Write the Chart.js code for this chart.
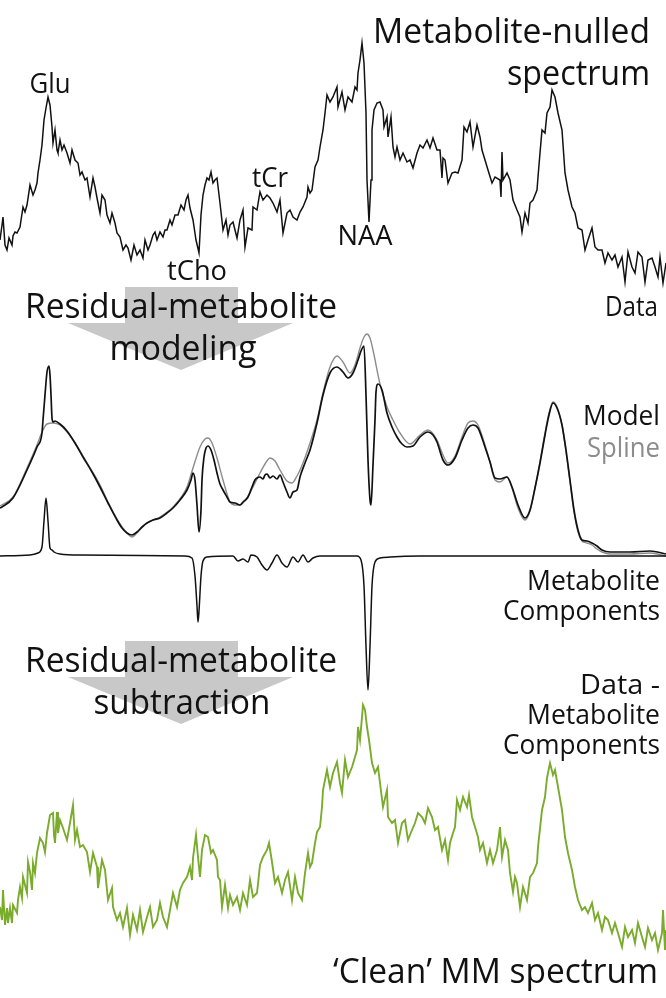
<!DOCTYPE html>
<html>
<head>
<meta charset="utf-8">
<script src="https://cdn.jsdelivr.net/npm/chart.js@4"></script>
<style>
  html, body { margin: 0; padding: 0; background: #ffffff; }
  #wrap { width: 666px; height: 998px; position: relative; }
</style>
</head>
<body>
<div id="wrap"><canvas id="c" width="666" height="998"></canvas></div>
<script>
// Spectral sample positions (left = high shift) and intensities for each trace.

// Metabolite-nulled spectrum (measured data)
const dataShift = [
  0,2,3,5,7,9,12,13,15,17, 20,23,25,27,30,33,35,37,38,40,
  42,44,46,48,50,52,53,55,57,58, 60,62,64,67,70,72,75,78,80,82,
  85,87,90,93,95,97,100,102,105,107, 110,112,115,117,120,123,126,128,131,134,
  137,140,143,145,148,150,153,155,157,160, 163,165,167,170,172,175,178,181,184,186,
  188,190,193,196,199,201,203,205,207,209, 211,213,215,217,220,223,226,228,230,233,
  237,240,243,245,248,252,253,257,260,263, 267,270,273,277,280,283,287,290,293,297,
  300,303,307,308,310,312,315,318,320,323, 325,327,330,333,337,338,342,345,348,352,
  355,357,358,360,362,364,366,367,369,371, 372,374,377,380,383,384,387,388,391,393,
  395,397,400,403,407,410,413,417,420,423, 427,430,433,437,440,442,443,445,448,452,
  455,458,462,464,467,470,473,477,480,482, 485,488,492,495,500,501,502,503,507,510,
  513,517,520,522,525,528,530,533,537,538, 540,542,545,547,550,552,555,558,562,565,
  568,572,575,578,582,585,588,592,595,598, 602,605,608,612,615,618,622,625,628,632,
  635,638,642,645,648,652,655,658,660,663, 666
];
const dataSignal = [
  50,65,73,45,40,52,45,54,58,57, 63,83,78,85,105,95,100,107,117,130,
  145,170,182,193,185,163,147,160,140,137, 150,140,145,137,127,140,130,127,115,118,
  110,112,93,112,103,92,77,95,90,75, 67,77,67,57,53,40,45,42,30,45,
  35,40,32,50,40,45,55,58,50,58, 53,60,60,70,65,75,75,85,80,90,
  95,82,70,50,37,75,95,105,112,110, 118,107,110,112,87,60,70,55,65,68,
  52,70,80,43,62,60,83,80,98,90, 95,92,87,78,90,57,77,80,73,70,
  78,83,93,103,97,100,123,130,143,160, 177,195,188,193,203,183,198,180,193,188,
  203,200,217,230,247,227,177,110,68,110, 160,180,187,188,180,163,173,153,173,143,
  133,143,130,137,128,130,122,137,145,142, 150,142,152,140,140,112,132,130,107,117,
  118,117,130,163,158,168,143,165,153,140, 130,120,107,113,110,93,138,110,117,110,
  90,80,73,58,77,67,87,90,100,113, 137,160,157,177,183,200,193,177,160,117,
  100,83,77,62,60,40,50,62,43,40, 40,27,37,30,35,23,33,8,38,23,
  17,38,33,8,30,32,23,13,33,7, 27
];

// Fitted model (MM spline + residual metabolites)
const modelShift = [
  0,2,13,27,37,42,43,45,47,49, 50,51,52,53,55,60,67,75,83,92,
  100,108,117,122,127,132,137,142,147,153, 160,167,173,180,187,191,193,195,197,199,
  201,202,204,206,208,211,214,217,220,223, 227,230,235,240,243,248,252,255,257,260,
  263,265,267,270,273,277,280,283,287,290, 293,297,300,305,310,317,323,330,337,343,
  348,353,358,361,364,366,368,370,371,373, 375,376,378,382,387,392,397,402,407,413,
  420,428,433,437,443,448,455,462,468,473, 478,485,490,495,500,507,512,518,525,530,
  535,540,545,549,553,557,562,566,570,574, 578,582,587,592,597,602,610,630,650,666
];
const modelSignal = [
  52,53,62,90,113,127,140,165,188,194, 185,165,142,138,139,136,129,117,103,88,
  73,57,40,32,27,25,28,33,37,40, 42,47,52,60,70,80,87,80,55,28,
  50,80,103,112,114,110,100,87,76,70, 63,58,57,55,58,63,73,80,82,83,
  81,85,86,82,84,81,85,78,68,62, 68,70,83,97,110,137,165,187,193,188,
  182,187,200,209,214,165,100,60,55,95, 140,168,176,170,147,133,123,116,113,114,
  123,128,125,118,100,95,102,120,132,135, 132,113,98,82,81,83,73,55,42,50,
  72,97,125,145,157,152,135,110,80,50, 30,20,19,17,14,10,8,8,9,6
];

// Macromolecule spline baseline
const splineShift = [
  0,13,27,37,42,47,53,60,67,75, 83,92,100,108,117,127,132,137,147,160,
  173,187,193,200,205,208,212,217,223,230, 235,240,247,253,260,265,270,275,280,287,
  292,297,303,310,317,323,330,337,343,350, 355,360,364,367,370,373,380,387,393,400,
  410,420,428,437,443,448,455,462,468,473, 478,485,490,495,500,507,512,518,525,530,
  535,540,545,549,553,557,562,566,570,574, 578,582,587,592,597,602,610,630,650,666
];
const splineSignal = [
  54,63,92,115,128,136,137,135,128,117, 104,89,75,58,41,27,23,27,37,43,
  53,73,92,113,121,122,117,102,80,58, 55,55,62,73,87,96,102,99,90,79,
  77,84,97,117,140,167,193,204,198,187, 195,212,223,226,222,210,176,153,140,127,
  116,125,130,120,105,97,104,123,137,139, 135,115,98,80,78,83,72,52,40,49,
  72,98,127,147,158,153,135,108,78,48, 28,19,17,15,11,8,6,6,7,4
];

// Residual metabolite components
const compShift = [
  0,30,38,42,44,46,48,50,52,54, 60,80,185,192,195,197,198,199,201,203,
  207,233,238,243,248,251,257,262,267,272, 277,282,287,293,298,303,308,313,320,357,
  361,364,366,368,370,372,375,380,390,420, 666
];
const compSignal = [
  0,1,3,9,35,58,35,8,6,4, 2,1,0,-2,-20,-50,-66,-55,-20,-5,
  -1,0,-5,-3,-6,1,-1,-9,-14,-7, 1,-7,-11,-1,-6,1,-6,-2,0,0,
  -4,-30,-90,-134,-90,-30,-6,-2,-1,0, 0
];

// Data minus metabolite components: clean MM spectrum
const cleanShift = [
  0,2,3,5,7,8,10,12,13,17, 18,20,22,23,27,28,30,32,33,35,
  37,40,43,45,47,50,53,54,55,57, 58,60,63,67,70,73,75,77,80,83,
  87,90,93,97,98,102,105,108,112,113, 117,120,123,127,130,133,137,140,143,147,
  150,153,157,160,163,167,170,173,177,180, 183,187,190,192,193,196,198,200,202,205,
  208,211,213,217,218,220,222,225,228,230, 233,237,240,243,247,250,253,257,260,263,
  267,269,272,275,278,282,285,288,292,295, 298,302,305,308,310,312,315,317,320,322,
  323,327,330,333,337,340,342,345,348,352, 355,357,358,360,362,363,365,367,369,372,
  375,378,380,383,387,388,392,395,398,402, 405,408,412,415,418,422,425,428,432,435,
  438,442,445,448,450,453,455,457,460,463, 467,469,472,475,478,480,483,487,490,493,
  497,500,502,505,508,510,513,515,517,520, 523,527,530,533,537,538,542,545,547,550,
  553,555,558,562,565,568,572,575,578,582, 585,588,592,595,598,602,605,608,612,615,
  618,622,625,628,632,635,638,642,645,648, 652,655,658,662,663,665,666
];
const cleanSignal = [
  53,40,70,35,52,37,52,37,55,47, 60,73,62,83,67,98,88,70,97,87,
  107,122,117,108,127,145,147,125,117,148, 127,140,132,120,137,155,120,130,113,115,
  108,88,107,93,72,100,90,60,72,53, 40,47,33,52,25,45,30,50,28,43,
  53,33,40,57,43,33,50,67,53,70, 77,83,93,80,102,125,103,83,110,125,
  123,107,110,100,83,80,53,75,52,65, 55,63,50,67,55,80,63,67,95,103,
  110,117,98,77,83,67,80,88,60,83, 67,60,87,107,93,97,117,128,133,153,
  170,190,173,187,198,177,167,200,183,193, 203,210,233,220,243,255,250,233,220,197,
  187,193,177,153,170,143,137,140,117,137, 140,120,130,137,147,143,137,152,143,130,
  133,110,120,100,117,127,133,160,150,163, 153,165,143,133,123,110,117,97,110,97,
  110,133,103,120,110,87,68,83,77,53, 73,60,83,87,97,113,150,163,182,197,
  185,190,173,150,123,107,90,73,60,50, 53,47,57,40,47,30,43,40,27,37,
  27,13,33,23,30,17,37,23,13,32, 20,27,10,27,50,10,30
];

// Vertical stacking of the traces on the shared canvas
const OFFSET = { data: 708, model: 438, comp: 442, clean: 38 };
const series = (xs, ys, off) => xs.map((x, i) => ({ x: x, y: ys[i] + off }));

const FONT = '"Open Sans", "DejaVu Sans", sans-serif';
const GREEN = 'rgb(122,171,44)';

// Annotation text: anchor, size, fitted width
const notes = [
  { t: 'Metabolite-nulled', x: 650, y: 43, a: 'right', s: 35, w: 277 },
  { t: 'spectrum', x: 650, y: 85, a: 'right', s: 35, w: 143 },
  { t: 'Glu', x: 50, y: 93, a: 'center', s: 26.5, w: 41 },
  { t: 'tCho', x: 197, y: 280, a: 'center', s: 26.5, w: 60 },
  { t: 'tCr', x: 270, y: 187, a: 'center', s: 26.5, w: 36 },
  { t: 'NAA', x: 365, y: 245, a: 'center', s: 26.5, w: 55 },
  { t: 'Data', x: 658, y: 316, a: 'right', s: 26.5, w: 53 },
  { t: 'Residual-metabolite', x: 181, y: 318, a: 'center', s: 35, w: 312 },
  { t: 'modeling', x: 183, y: 360, a: 'center', s: 35, w: 147 },
  { t: 'Model', x: 660, y: 425, a: 'right', s: 27.5, w: 77 },
  { t: 'Spline', x: 660, y: 457, a: 'right', s: 27.5, w: 73, c: '#8c8c8c' },
  { t: 'Metabolite', x: 660, y: 590, a: 'right', s: 27.5, w: 133 },
  { t: 'Components', x: 660, y: 620, a: 'right', s: 27.5, w: 157 },
  { t: 'Residual-metabolite', x: 181, y: 672, a: 'center', s: 35, w: 312 },
  { t: 'subtraction', x: 182, y: 714, a: 'center', s: 35, w: 177 },
  { t: 'Data -', x: 660, y: 694, a: 'right', s: 27.5, w: 80 },
  { t: 'Metabolite', x: 660, y: 724, a: 'right', s: 27.5, w: 133 },
  { t: 'Components', x: 660, y: 754, a: 'right', s: 27.5, w: 157 },
  { t: '\u2018Clean\u2019 MM spectrum', x: 658, y: 983, a: 'right', s: 35, w: 325 }
];

// Gray process arrows between the panels
const arrows = [
  { top: 287, neck: 323, tip: 370 },
  { top: 641, neck: 677, tip: 724 }
];

const overlay = {
  id: 'overlay',
  beforeDatasetsDraw(chart) {
    const ctx = chart.ctx;
    ctx.save();
    ctx.fillStyle = '#c8c8c8';
    arrows.forEach(a => {
      ctx.beginPath();
      ctx.moveTo(125, a.top);
      ctx.lineTo(238, a.top);
      ctx.lineTo(238, a.neck);
      ctx.lineTo(293, a.neck);
      ctx.lineTo(181, a.tip);
      ctx.lineTo(68, a.neck);
      ctx.lineTo(125, a.neck);
      ctx.closePath();
      ctx.fill();
    });
    ctx.restore();
  },
  afterDatasetsDraw(chart) {
    const ctx = chart.ctx;
    notes.forEach(n => {
      ctx.save();
      ctx.font = n.s + 'px ' + FONT;
      ctx.fillStyle = n.c || '#111111';
      ctx.textAlign = n.a;
      ctx.textBaseline = 'alphabetic';
      const mw = ctx.measureText(n.t).width;
      ctx.translate(n.x, n.y);
      ctx.scale(n.w / mw, 1);
      ctx.fillText(n.t, 0, 0);
      ctx.restore();
    });
  }
};

new Chart(document.getElementById('c'), {
  type: 'line',
  data: {
    datasets: [
      { label: 'Data', data: series(dataShift, dataSignal, OFFSET.data),
        borderColor: '#111111', borderWidth: 1.5, tension: 0, order: 1 },
      { label: 'Model', data: series(modelShift, modelSignal, OFFSET.model),
        borderColor: '#111111', borderWidth: 1.7, cubicInterpolationMode: 'monotone', order: 1 },
      { label: 'Spline', data: series(splineShift, splineSignal, OFFSET.model),
        borderColor: '#8c8c8c', borderWidth: 1.4, cubicInterpolationMode: 'monotone', order: 2 },
      { label: 'Metabolite Components', data: series(compShift, compSignal, OFFSET.comp),
        borderColor: '#111111', borderWidth: 1.5, cubicInterpolationMode: 'monotone', order: 1 },
      { label: 'Clean MM spectrum', data: series(cleanShift, cleanSignal, OFFSET.clean),
        borderColor: GREEN, borderWidth: 1.9, tension: 0, order: 1 }
    ]
  },
  options: {
    responsive: false,
    animation: false,
    parsing: true,
    layout: { padding: 0 },
    elements: { point: { radius: 0, hoverRadius: 0 }, line: { fill: false } },
    plugins: { legend: { display: false }, tooltip: { enabled: false } },
    scales: {
      x: { type: 'linear', min: 0, max: 666, display: false },
      y: { type: 'linear', min: 0, max: 998, display: false }
    }
  },
  plugins: [overlay]
});
</script>
</body>
</html>
